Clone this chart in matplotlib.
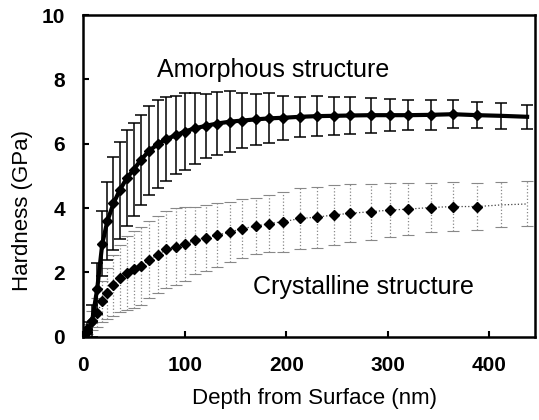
import matplotlib.pyplot as plt
import numpy as np

plt.rcParams['font.family'] = ['Liberation Sans', 'DejaVu Sans']

# depth grid (nm), shared by both curves
depth = [0, 4, 9, 14, 19, 24, 30, 36, 43, 50, 57, 65, 74, 82, 92, 100, 110, 121,
         132, 145, 156, 170, 183, 197, 214, 230, 247, 263, 283, 302, 320, 342,
         364, 388, 411, 437]

# amorphous structure
amor_h = [0.0, 0.15, 0.5, 1.5, 2.9, 3.6, 4.15, 4.55, 4.93, 5.2, 5.5, 5.78, 6.0,
          6.15, 6.27, 6.38, 6.48, 6.56, 6.63, 6.69, 6.72, 6.76, 6.79, 6.81, 6.84,
          6.86, 6.87, 6.88, 6.89, 6.89, 6.89, 6.9, 6.92, 6.89, 6.87, 6.84]
amor_err = [0.1, 0.3, 0.5, 0.8, 1.0, 1.2, 1.45, 1.5, 1.5, 1.45, 1.4, 1.38, 1.36,
            1.3, 1.22, 1.2, 1.1, 1.0, 0.98, 0.95, 0.85, 0.8, 0.78, 0.68, 0.62,
            0.62, 0.6, 0.58, 0.54, 0.5, 0.47, 0.46, 0.43, 0.41, 0.4, 0.38]

# crystalline structure
cryst_h = [0.0, 0.25, 0.5, 0.75, 1.1, 1.35, 1.6, 1.82, 1.98, 2.1, 2.2, 2.4, 2.55,
           2.72, 2.8, 2.88, 3.0, 3.08, 3.16, 3.26, 3.36, 3.44, 3.52, 3.58, 3.68,
           3.72, 3.79, 3.84, 3.89, 3.94, 3.97, 4.02, 4.05, 4.05, 4.1, 4.13]
cryst_err = [0.05, 0.15, 0.3, 0.45, 0.65, 0.8, 0.95, 1.05, 1.15, 1.2, 1.2, 1.2,
             1.2, 1.2, 1.2, 1.15, 1.05, 1.03, 1.0, 0.92, 0.92, 0.88, 0.88, 0.93,
             0.95, 0.95, 0.93, 0.9, 0.87, 0.85, 0.8, 0.75, 0.75, 0.74, 0.7, 0.7]

fig = plt.figure(figsize=(5.39, 4.2), dpi=100)
ax = fig.add_axes([0.154, 0.198, 0.839, 0.766])

n_mark = len(depth) - 2  # last two points have no marker

# crystalline: grey dotted line and error bars
eb = ax.errorbar(depth, cryst_h, yerr=cryst_err, color='#444444', lw=0.9, ls=':',
                 ecolor='#888888', elinewidth=0.9, capsize=4, capthick=0.8)
eb[2][0].set_linestyle(':')
ax.plot(depth[:n_mark], cryst_h[:n_mark], ls='none', marker='D', ms=5.5,
        color='black', zorder=4)

# amorphous: thick black line
ax.errorbar(depth, amor_h, yerr=amor_err, color='black', lw=3.0,
            ecolor='black', elinewidth=1.1, capsize=4, capthick=1.1, zorder=5)
ax.plot(depth[:n_mark], amor_h[:n_mark], ls='none', marker='D', ms=5.5,
        color='black', zorder=6)

ax.set_xlim(0, 445)
ax.set_ylim(0, 10)
ax.set_xticks([0, 100, 200, 300, 400])
ax.set_yticks([0, 2, 4, 6, 8, 10])
ax.tick_params(direction='in', length=4, width=1.5, labelsize=15)
ax.tick_params(axis='x', pad=14)
ax.tick_params(axis='y', pad=13)
for lab in ax.get_xticklabels() + ax.get_yticklabels():
    lab.set_fontweight('bold')
for sp in ax.spines.values():
    sp.set_linewidth(1.8)

ax.set_xlabel('Depth from Surface (nm)', fontsize=16)
ax.set_ylabel('Hardness (GPa)', fontsize=16)
ax.xaxis.set_label_coords(0.511, -0.16)
ax.yaxis.set_label_coords(-0.11, 0.394)

ax.text(73, 8.29, 'Amorphous structure', fontsize=18, va='center', ha='left')
ax.text(167, 1.55, 'Crystalline structure', fontsize=18, va='center', ha='left')

fig.savefig('out.png', dpi=100)
